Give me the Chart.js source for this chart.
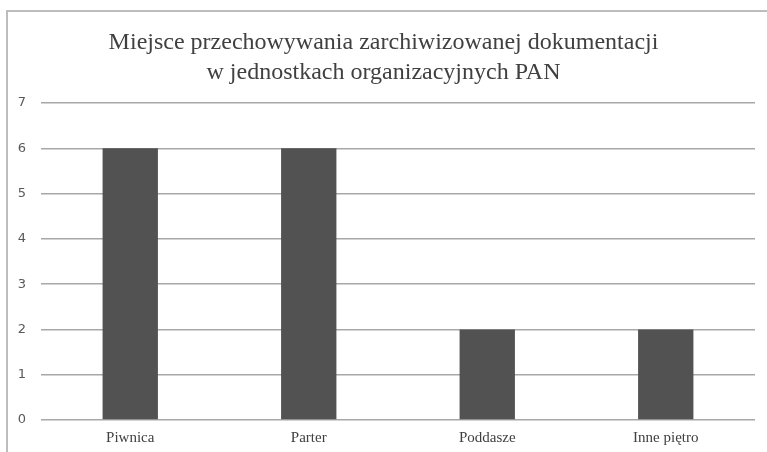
<!DOCTYPE html>
<html>
<head>
<meta charset="utf-8">
<script src="https://cdn.jsdelivr.net/npm/chart.js@4"></script>
<style>
  body { margin: 0; background: #fff; }
  #wrap { position: relative; width: 767px; height: 452px; overflow: hidden; }
  #frame { position: absolute; left: 6px; top: 10px; width: 800px; height: 500px;
           border-left: 2px solid #bdbdbd; border-top: 2px solid #bdbdbd; }
  canvas { position: absolute; left: 0; top: 0; }
</style>
</head>
<body>
<div id="wrap">
  <div id="frame"></div>
  <canvas id="chart" width="767" height="452"></canvas>
</div>
<script>
// dane
const categories = ["Piwnica", "Parter", "Poddasze", "Inne piętro"];
const values = [6, 6, 2, 2];
const yTicks = [0, 1, 2, 3, 4, 5, 6, 7];
const titleLines = [
  "Miejsce przechowywania zarchiwizowanej dokumentacji",
  "w jednostkach organizacyjnych PAN",
];

const ctx = document.getElementById("chart").getContext("2d");

new Chart(ctx, {
  type: "bar",
  data: {
    labels: categories,
    datasets: [
      {
        data: values,
        backgroundColor: "#525252",
        categoryPercentage: 0.31,
        barPercentage: 1,
      },
    ],
  },
  options: {
    responsive: false,
    animation: false,
    layout: { padding: { left: 12, right: 12, top: 0, bottom: 4 } },
    plugins: {
      legend: { display: false },
      tooltip: { enabled: false },
      title: {
        display: true,
        text: titleLines,
        color: "#404040",
        font: { family: "Liberation Serif", size: 24, weight: "normal", lineHeight: 1.25 },
        padding: { top: 28, bottom: 15 },
      },
    },
    scales: {
      x: {
        grid: { display: false },
        border: { display: false },
        ticks: {
          color: "#404040",
          font: { family: "Liberation Serif", size: 15 },
          padding: 1,
        },
      },
      y: {
        min: 0,
        max: 7,
        afterFit: (axis) => { axis.width = 29; },
        afterBuildTicks: (axis) => { axis.ticks = yTicks.map((v) => ({ value: v })); },
        grid: { color: "#a8a8a8", lineWidth: 1.5, drawTicks: false },
        border: { display: false },
        ticks: {
          color: "#595959",
          font: { family: "DejaVu Sans", size: 13 },
          padding: 15,
        },
      },
    },
  },
});
</script>
</body>
</html>
